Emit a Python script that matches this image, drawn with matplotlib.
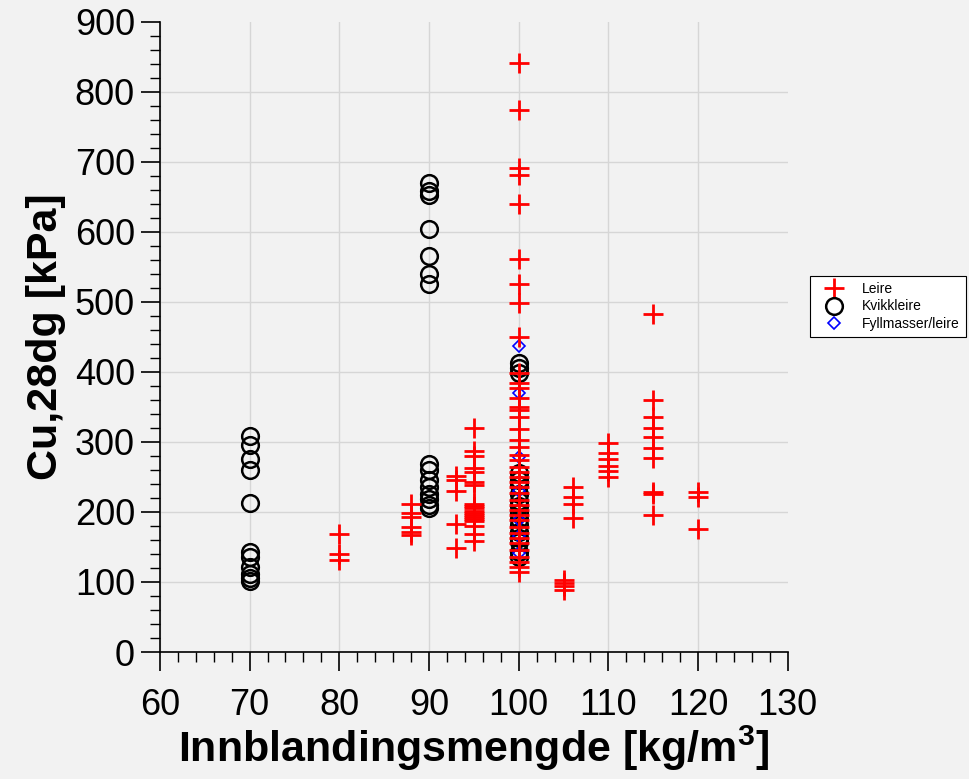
import matplotlib.pyplot as plt
import numpy as np

plt.rcParams['font.family'] = ['Liberation Sans', 'DejaVu Sans']
plt.rcParams['mathtext.fontset'] = 'custom'
plt.rcParams['mathtext.bf'] = 'Liberation Sans:bold'
plt.rcParams['mathtext.rm'] = 'Liberation Sans'

# Leire (red +)
leire_x = ([80] * 3 + [88] * 6 + [93] * 5 + [95] * 19 + [100] * 41 + [105] * 4
           + [106] * 4 + [110] * 6 + [115] * 10 + [120] * 3)
leire_y = ([169, 140, 131]
           + [212, 198, 193, 178, 172, 167]
           + [252, 245, 230, 183, 149]
           + [320, 287, 280, 263, 257, 243, 238, 212, 208, 205, 202, 199, 196,
              193, 190, 187, 180, 168, 158]
           + [841, 774, 691, 681, 640, 561, 526, 499, 450, 398, 384, 377, 363,
              350, 346, 336, 318, 303, 293, 281, 274, 264, 257, 250, 243, 236,
              227, 217, 210, 203, 196, 189, 179, 170, 163, 156, 146, 136, 129,
              121, 114]
           + [103, 98, 95, 88]
           + [235, 222, 211, 192]
           + [298, 284, 275, 266, 258, 250]
           + [483, 360, 335, 320, 307, 292, 277, 228, 225, 196]
           + [228, 221, 176])

# Kvikkleire (black o)
kvikk_x = [70] * 11 + [90] * 15 + [100] * 17
kvikk_y = ([308, 295, 275, 260, 213, 143, 135, 121, 112, 106, 102]
           + [670, 659, 653, 604, 566, 540, 525, 268, 260, 245, 235, 225, 218,
              210, 205]
           + [413, 406, 399, 255, 245, 238, 225, 215, 208, 198, 190, 182, 172,
              163, 157, 143, 135])

# Fyllmasser/leire (blue diamond)
fyll_x = [100] * 7
fyll_y = [437, 370, 279, 230, 189, 165, 141]

bg = '#f2f2f2'
fig = plt.figure(figsize=(9.69, 7.79), dpi=100, facecolor=bg)
ax = fig.add_axes([0.165, 0.163, 0.648, 0.809], facecolor=bg)

h2, = ax.plot(kvikk_x, kvikk_y, 'o', ls='none', ms=12, mfc='none', mec='black',
              mew=1.8, label='Kvikkleire', zorder=3)
h3, = ax.plot(fyll_x, fyll_y, 'D', ls='none', ms=6, mfc='none', mec='blue',
              mew=1.2, label='Fyllmasser/leire', zorder=3)
h1, = ax.plot(leire_x, leire_y, '+', ls='none', ms=14, mec='red', mew=2,
              label='Leire', zorder=4)

ax.set_xlim(60, 130)
ax.set_ylim(0, 900)
ax.set_xticks(np.arange(60, 131, 10))
ax.set_yticks(np.arange(0, 901, 100))
ax.set_xticks(np.arange(60, 131, 2), minor=True)
ax.set_yticks(np.arange(0, 901, 20), minor=True)
ax.grid(True, which='major', color='#d6d6d6', lw=1)
ax.set_axisbelow(True)
# no grid lines on the outer edges
for gl in ax.get_xgridlines()[-1:] + ax.get_ygridlines()[-1:]:
    gl.set_visible(False)
for s in ['top', 'right']:
    ax.spines[s].set_visible(False)
for s in ['left', 'bottom']:
    ax.spines[s].set_linewidth(1.2)
ax.tick_params(which='major', length=14, width=1.2, labelsize=26, direction='out')
ax.tick_params(which='minor', length=7, width=1.0, direction='out')
ax.tick_params(axis='x', pad=12)
ax.tick_params(axis='y', pad=4)

ax.set_xlabel(r'Innblandingsmengde [kg/m$^{\mathbf{3}}$]', fontsize=31,
              fontweight='bold', labelpad=0)
ax.set_ylabel('Cu,28dg [kPa]', fontsize=31, fontweight='bold', labelpad=6)

leg = fig.legend(handles=[h1, h2, h3], loc='upper left',
                 bbox_to_anchor=(0.836, 0.646), fontsize=10, frameon=True,
                 fancybox=False, edgecolor='black', framealpha=1,
                 markerscale=1.0, handlelength=2.6, handletextpad=0.7,
                 borderpad=0.45, labelspacing=0.25, borderaxespad=0)
leg.get_frame().set_linewidth(0.8)

fig.savefig('out.png', dpi=100, facecolor=bg)
